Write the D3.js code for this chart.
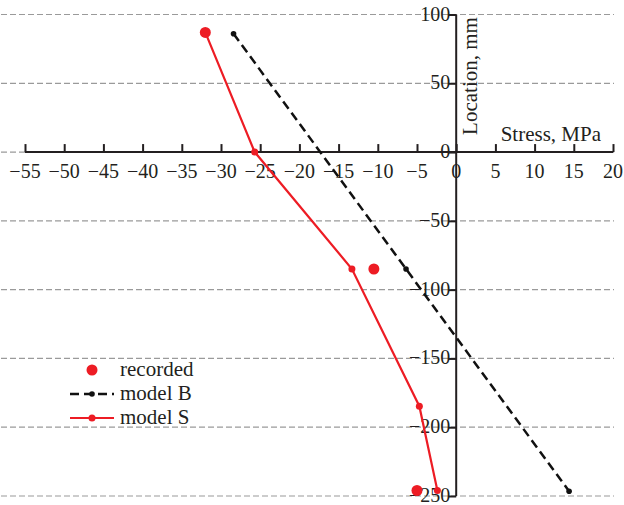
<!DOCTYPE html>
<html>
<head>
<meta charset="utf-8">
<script src="https://cdn.jsdelivr.net/npm/d3@7"></script>
<style>
  body { margin: 0; background: #fff; }
  text { font-family: "Liberation Serif", "DejaVu Serif", serif; fill: #231f20; }
</style>
</head>
<body>
<div id="chart"></div>
<script>
// data (stress MPa, location mm)
var recordedX = [-32, -10.5, -5];
var recordedY = [87, -85, -246];
var modelBX = [-28.4, -6.4, 14.4];
var modelBY = [86, -85, -246.5];
var modelSX = [-32, -25.7, -13.3, -4.7, -2.4];
var modelSY = [87, 0, -85, -184.7, -246];
var xTicks = [-55, -50, -45, -40, -35, -30, -25, -20, -15, -10, -5, 0, 5, 10, 15, 20];
var yTicks = [100, 50, 0, -50, -100, -150, -200, -250];

var W = 624, H = 505;
var red = "#ed1c24";

var svg = d3.select("#chart").append("svg")
  .attr("width", W).attr("height", H);

var x = d3.scaleLinear().domain([-55, 20]).range([25, 613]);
var y = d3.scaleLinear().domain([-250, 100]).range([496, 14.5]);

function fmt(d) { return d < 0 ? "\u2212" + Math.abs(d) : "" + d; }

// horizontal dashed grid
svg.append("g").selectAll("line")
  .data(yTicks)
  .enter().append("line")
  .attr("x1", 1).attr("x2", 614)
  .attr("y1", function(d) { return y(d); })
  .attr("y2", function(d) { return y(d); })
  .attr("stroke", "#9a9a9a")
  .attr("stroke-width", 1.2)
  .attr("stroke-dasharray", "6,3");

// x axis (ticks up, labels below)
var xAxis = svg.append("g")
  .attr("transform", "translate(0," + y(0) + ")")
  .call(d3.axisTop(x).tickValues(xTicks).tickSize(8).tickFormat(""));
xAxis.select(".domain").attr("stroke", "#231f20").attr("stroke-width", 2).attr("d", "M" + x(-55) + ",0H" + x(20));
xAxis.selectAll(".tick line").attr("stroke", "#231f20").attr("stroke-width", 2);
svg.append("g").selectAll("text")
  .data(xTicks)
  .enter().append("text")
  .attr("x", function(d) { return x(d); })
  .attr("y", y(0) + 26)
  .attr("text-anchor", "middle")
  .style("font-size", "20px")
  .text(fmt);

// y axis (ticks left, labels left)
var yAxis = svg.append("g")
  .attr("transform", "translate(" + x(0) + ",0)")
  .call(d3.axisLeft(y).tickValues(yTicks).tickSize(8).tickFormat(""));
yAxis.select(".domain").attr("stroke", "#231f20").attr("stroke-width", 2).attr("d", "M0," + y(100) + "V" + y(-250));
yAxis.selectAll(".tick line").attr("stroke", "#231f20").attr("stroke-width", 2);
svg.append("g").selectAll("text")
  .data(yTicks)
  .enter().append("text")
  .attr("x", x(0) - 6)
  .attr("y", function(d) { return y(d) + 6; })
  .attr("text-anchor", "end")
  .style("font-size", "20px")
  .text(fmt);

// axis titles
svg.append("text")
  .attr("transform", "translate(" + (x(0) + 21) + "," + 76 + ") rotate(-90)")
  .attr("text-anchor", "middle")
  .style("font-size", "21px")
  .text("Location, mm");
svg.append("text")
  .attr("x", 601).attr("y", 141)
  .attr("text-anchor", "end")
  .style("font-size", "21px")
  .text("Stress, MPa");

// model B
var bData = modelBX.map(function(d, i) { return [d, modelBY[i]]; });
var line = d3.line().x(function(d) { return x(d[0]); }).y(function(d) { return y(d[1]); });
svg.append("path")
  .datum(bData)
  .attr("fill", "none")
  .attr("stroke", "#111")
  .attr("stroke-width", 2.5)
  .attr("stroke-dasharray", "9,5")
  .attr("d", line);
svg.selectAll(".bpt")
  .data(bData)
  .enter().append("circle")
  .attr("cx", function(d) { return x(d[0]); })
  .attr("cy", function(d) { return y(d[1]); })
  .attr("r", 2.8)
  .attr("fill", "#111");

// model S
var sData = modelSX.map(function(d, i) { return [d, modelSY[i]]; });
svg.append("path")
  .datum(sData)
  .attr("fill", "none")
  .attr("stroke", red)
  .attr("stroke-width", 2.2)
  .attr("d", line);
svg.selectAll(".spt")
  .data(sData)
  .enter().append("circle")
  .attr("cx", function(d) { return x(d[0]); })
  .attr("cy", function(d) { return y(d[1]); })
  .attr("r", 3.5)
  .attr("fill", red);

// recorded
var rData = recordedX.map(function(d, i) { return [d, recordedY[i]]; });
svg.selectAll(".rpt")
  .data(rData)
  .enter().append("circle")
  .attr("cx", function(d) { return x(d[0]); })
  .attr("cy", function(d) { return y(d[1]); })
  .attr("r", 5.5)
  .attr("fill", red);

// legend
var leg = svg.append("g");
leg.append("circle").attr("cx", 92).attr("cy", 370).attr("r", 5.5).attr("fill", red);
leg.append("line").attr("x1", 70).attr("x2", 114).attr("y1", 394).attr("y2", 394)
  .attr("stroke", "#111").attr("stroke-width", 2.5).attr("stroke-dasharray", "9,5");
leg.append("circle").attr("cx", 92).attr("cy", 394).attr("r", 2.8).attr("fill", "#111");
leg.append("line").attr("x1", 70).attr("x2", 114).attr("y1", 418).attr("y2", 418)
  .attr("stroke", red).attr("stroke-width", 2.2);
leg.append("circle").attr("cx", 92).attr("cy", 418).attr("r", 3.5).attr("fill", red);
var legNames = ["recorded", "model B", "model S"];
leg.selectAll("text")
  .data(legNames)
  .enter().append("text")
  .attr("x", 120)
  .attr("y", function(d, i) { return 376 + i * 24; })
  .style("font-size", "21px")
  .text(function(d) { return d; });
</script>
</body>
</html>
